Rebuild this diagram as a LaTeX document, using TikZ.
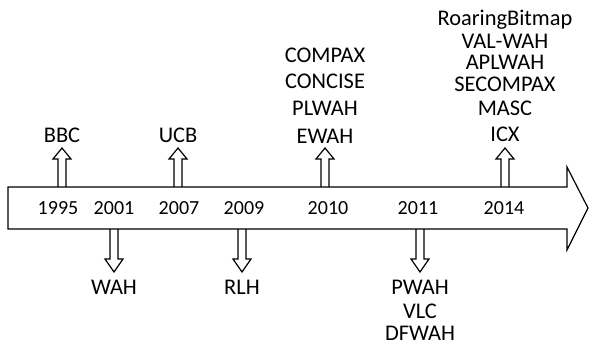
\documentclass[tikz,border=0pt]{standalone}
\usepackage{fontspec}
\setmainfont{Carlito}
\usetikzlibrary{positioning, calc}
\definecolor{lineBlack}{HTML}{000000}
\tikzset{
    blockline/.style={draw=lineBlack, line width=0.6pt, line join=miter},
    yearlbl/.style={font=\fontsize{10}{12}\selectfont, inner sep=0pt},
    methodlbl/.style={font=\fontsize{11.2}{13}\selectfont, inner sep=0pt}
}
\newcommand{\DrawUpArrow}[1]{
    % #1: x position, from band top (15.8) up
    \draw[blockline] (#1-0.4,15.8) -- (#1-0.4,18.6) -- (#1-0.9,18.6) -- (#1,19.7) -- (#1+0.9,18.6) -- (#1+0.4,18.6) -- (#1+0.4,15.8);
}
\newcommand{\DrawDownArrow}[1]{
    % #1: x position, from band bottom (11.6) down
    \draw[blockline] (#1-0.4,11.6) -- (#1-0.4,8.6) -- (#1-0.9,8.6) -- (#1,7.3) -- (#1+0.9,8.6) -- (#1+0.4,8.6) -- (#1+0.4,11.6);
}

\begin{document}
\begin{tikzpicture}[x=5pt, y=5pt]
        \useasboundingbox (0,0) rectangle (58.9,34.5);

        % Time band
        \draw[blockline] (0.8,11.6) -- (56.7,11.6) -- (56.7,9.5) -- (58.8,13.7) -- (56.7,17.8) -- (56.7,15.8) -- (0.8,15.8) -- cycle;

        % Years
        \node[yearlbl] (y1995) at (5.8,13.7) {1995};
        \node[yearlbl] (y2001) at (11.4,13.7) {2001};
        \node[yearlbl] (y2007) at (17.9,13.7) {2007};
        \node[yearlbl] (y2009) at (24.4,13.7) {2009};
        \node[yearlbl] (y2010) at (32.8,13.7) {2010};
        \node[yearlbl] (y2011) at (41.8,13.7) {2011};
        \node[yearlbl] (y2014) at (50.4,13.7) {2014};

        % Up arrows
        \DrawUpArrow{6.2}
        \DrawUpArrow{17.8}
        \DrawUpArrow{32.5}
        \DrawUpArrow{50.5}

        % Down arrows
        \DrawDownArrow{11.4}
        \DrawDownArrow{24.2}
        \DrawDownArrow{42.0}

        % Methods above
        \node[methodlbl] (bbc) at (6.2,21.0) {BBC};
        \node[methodlbl] (ucb) at (17.8,21.0) {UCB};
        \node[methodlbl] (ewah) at (32.5,20.9) {EWAH};
        \node[methodlbl] (plwah) at (32.5,23.7) {PLWAH};
        \node[methodlbl] (concise) at (32.5,26.4) {CONCISE};
        \node[methodlbl] (compax) at (32.5,29.0) {COMPAX};
        \node[methodlbl] (icx) at (50.5,21.1) {ICX};
        \node[methodlbl] (masc) at (50.5,23.7) {MASC};
        \node[methodlbl] (secompax) at (50.5,26.1) {SECOMPAX};
        \node[methodlbl] (aplwah) at (50.5,28.3) {APLWAH};
        \node[methodlbl] (valwah) at (50.5,30.4) {VAL-WAH};
        \node[methodlbl] (roaring) at (50.5,32.5) {RoaringBitmap};

        % Methods below
        \node[methodlbl] (wah) at (11.4,5.8) {WAH};
        \node[methodlbl] (rlh) at (24.2,5.8) {RLH};
        \node[methodlbl] (pwah) at (42.0,5.8) {PWAH};
        \node[methodlbl] (vlc) at (42.0,3.4) {VLC};
        \node[methodlbl] (dfwah) at (42.0,1.2) {DFWAH};
    \end{tikzpicture}
\end{document}
